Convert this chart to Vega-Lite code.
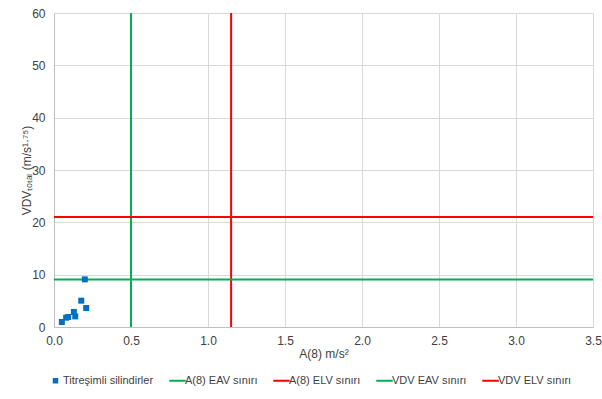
{
  "$schema": "https://vega.github.io/schema/vega-lite/v6.json",
  "width": 539,
  "height": 314,
  "autosize": {"type": "none"},
  "padding": {"left": 54, "top": 13, "right": 9, "bottom": 72},
  "background": "white",
  "config": {
    "font": "Liberation Sans",
    "view": {"stroke": null},
    "axis": {
      "labelFont": "Liberation Sans",
      "labelFontSize": 12,
      "labelColor": "#404040",
      "labelFlush": false,
      "titleFont": "Liberation Sans",
      "titleFontSize": 12,
      "titleFontWeight": "normal",
      "titleColor": "#404040",
      "gridColor": "#d9d9d9",
      "gridWidth": 1,
      "domainColor": "#bfbfbf",
      "ticks": false
    },
    "legend": {
      "labelFont": "Liberation Sans",
      "labelFontSize": 11,
      "labelColor": "#404040"
    }
  },
  "datasets": {
    "points": [
      {"a": 0.051, "vdv": 0.96, "series": "Titreşimli silindirler"},
      {"a": 0.079, "vdv": 1.78, "series": "Titreşimli silindirler"},
      {"a": 0.092, "vdv": 1.91, "series": "Titreşimli silindirler"},
      {"a": 0.129, "vdv": 2.87, "series": "Titreşimli silindirler"},
      {"a": 0.138, "vdv": 2.03, "series": "Titreşimli silindirler"},
      {"a": 0.177, "vdv": 5.03, "series": "Titreşimli silindirler"},
      {"a": 0.2, "vdv": 9.1, "series": "Titreşimli silindirler"},
      {"a": 0.209, "vdv": 3.63, "series": "Titreşimli silindirler"}
    ],
    "aLimits": [
      {"a": 0.5, "series": "A(8) EAV sınırı"},
      {"a": 1.15, "series": "A(8) ELV sınırı"}
    ],
    "vdvLimits": [
      {"vdv": 9.1, "series": "VDV EAV sınırı"},
      {"vdv": 21, "series": "VDV ELV sınırı"}
    ]
  },
  "layer": [
    {
      "data": {"name": "aLimits"},
      "mark": {"type": "rule", "strokeWidth": 2},
      "encoding": {
        "x": {
          "field": "a",
          "type": "quantitative",
          "scale": {"domain": [0, 3.5], "nice": false},
          "axis": {
            "title": "A(8) m/s²",
            "values": [0, 0.5, 1, 1.5, 2, 2.5, 3, 3.5],
            "format": ".1f",
            "labelPadding": 8,
            "titlePadding": 2
          }
        },
        "color": {
          "field": "series",
          "type": "nominal",
          "scale": {
            "domain": ["Titreşimli silindirler", "A(8) EAV sınırı", "A(8) ELV sınırı", "VDV EAV sınırı", "VDV ELV sınırı"],
            "range": ["#0070C0", "#00B050", "#FF0000", "#00B050", "#FF0000"]
          },
          "legend": {
            "title": null,
            "orient": "none",
            "direction": "horizontal",
            "legendX": -4,
            "legendY": 362,
            "symbolSize": 272,
            "symbolStrokeWidth": 2,
            "labelOffset": 2,
            "columnPadding": 11,
            "encode": {
              "symbols": {
                "update": {
                  "shape": {"signal": "datum.value === 'Titreşimli silindirler' ? 'square' : 'stroke'"},
                  "size": {"signal": "datum.value === 'Titreşimli silindirler' ? 30 : 272"},
                  "fill": {"signal": "datum.value === 'Titreşimli silindirler' ? '#0070C0' : 'transparent'"},
                  "strokeWidth": {"signal": "datum.value === 'Titreşimli silindirler' ? 0 : 2"}
                }
              }
            }
          }
        }
      }
    },
    {
      "data": {"name": "vdvLimits"},
      "mark": {"type": "rule", "strokeWidth": 2},
      "encoding": {
        "y": {
          "field": "vdv",
          "type": "quantitative",
          "scale": {"domain": [0, 60], "nice": false},
          "axis": {
            "title": "VDVₜₒₜₐₗ (m/s¹·⁷⁵)",
            "values": [0, 10, 20, 30, 40, 50, 60],
            "labelPadding": 9,
            "titlePadding": -2
          }
        },
        "color": {"field": "series", "type": "nominal"}
      }
    },
    {
      "data": {"name": "points"},
      "mark": {"type": "square", "filled": true, "opacity": 1, "size": 36},
      "encoding": {
        "x": {"field": "a", "type": "quantitative"},
        "y": {"field": "vdv", "type": "quantitative"},
        "color": {"field": "series", "type": "nominal"}
      }
    }
  ]
}
